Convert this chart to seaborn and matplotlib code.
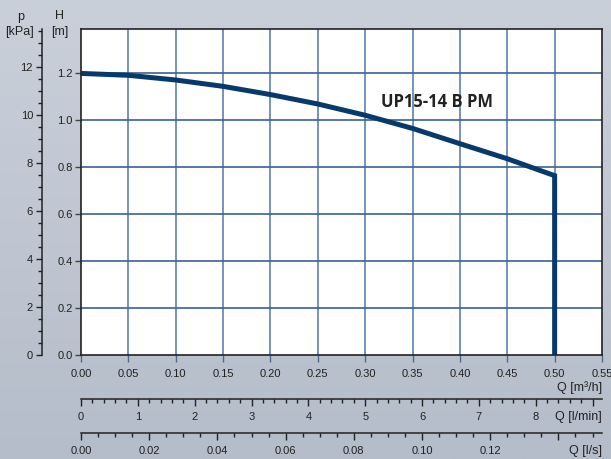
import numpy as np
import pandas as pd
import matplotlib
matplotlib.use("Agg")
import matplotlib.pyplot as plt
from matplotlib.ticker import MultipleLocator, FixedLocator, FixedFormatter
import seaborn as sns

# ---- data ----
q_m3h = [0.00, 0.05, 0.10, 0.15, 0.20, 0.25, 0.30, 0.35, 0.40, 0.45, 0.50, 0.50]
h_m = [1.198, 1.190, 1.170, 1.143, 1.108, 1.068, 1.020, 0.964, 0.899, 0.835, 0.763, 0.0]
curve_label = "UP15-14 B PM"
h_ticks = [0.0, 0.2, 0.4, 0.6, 0.8, 1.0, 1.2]
q_ticks = [0.00, 0.05, 0.10, 0.15, 0.20, 0.25, 0.30, 0.35, 0.40, 0.45, 0.50, 0.55]
p_ticks = [0, 2, 4, 6, 8, 10, 12]
lmin_ticks = [0, 1, 2, 3, 4, 5, 6, 7, 8, 9]
lmin_labels = ["0", "1", "2", "3", "4", "5", "6", "7", "8", ""]
ls_ticks = [0.00, 0.02, 0.04, 0.06, 0.08, 0.10, 0.12, 0.14]
ls_labels = ["0.00", "0.02", "0.04", "0.06", "0.08", "0.10", "0.12", ""]

sns.set_style("white")
plt.rcParams["font.family"] = ["Liberation Sans", "DejaVu Sans"]

W, H = 611, 459
fig = plt.figure(figsize=(W / 100, H / 100), dpi=100)

# background gradient
bg = fig.add_axes([0, 0, 1, 1], zorder=-10)
grad = np.linspace(0, 1, 256).reshape(-1, 1)
top_c = np.array([0xca, 0xd0, 0xda]) / 255
bot_c = np.array([0xb5, 0xbd, 0xca]) / 255
img = top_c[None, None, :] * (1 - grad[:, :, None]) + bot_c[None, None, :] * grad[:, :, None]
bg.imshow(img, aspect="auto", extent=[0, 1, 0, 1])
bg.set_axis_off()

L, R, T, B = 81, 602, 29, 355
ax = fig.add_axes([L / W, 1 - B / H, (R - L) / W, (B - T) / H])
ax.set_facecolor("white")

df = pd.DataFrame({"Q": q_m3h, "H": h_m})
ax.set_xlim(0, 0.55)
ax.set_ylim(0, 1.387)

# grid
for q in q_ticks[1:-1]:
    ax.axvline(q, color="#6a8bb5", lw=1.3, zorder=1)
for h in h_ticks[1:]:
    ax.axhline(h, color="#3a6194", lw=1.2, zorder=1)

sns.lineplot(data=df, x="Q", y="H", sort=False, estimator=None, ax=ax,
             color="#063a6c", lw=3.6, zorder=5, solid_joinstyle="miter")

ax.text(0.3165, 1.077, curve_label, fontsize=12, fontweight="bold",
        family=["Open Sans", "DejaVu Sans"], color="#222222",
        ha="left", va="center", zorder=6)

for s in ax.spines.values():
    s.set_color("#222222")
    s.set_linewidth(1.2)
    s.set_zorder(7)

ax.set_xlabel("")
ax.set_ylabel("")
ax.xaxis.set_major_locator(FixedLocator(q_ticks))
ax.set_xticklabels([f"{v:.2f}" for v in q_ticks])
ax.yaxis.set_major_locator(FixedLocator(h_ticks))
ax.set_yticklabels([f"{v:.1f}" for v in h_ticks])
ax.tick_params(axis="x", direction="out", length=5, width=1.0, color="#4f6a8c",
               labelsize=8, labelcolor="#222222", pad=5, bottom=True)
ax.tick_params(axis="y", direction="out", length=4.5, width=1.0, color="#444444",
               labelsize=8, labelcolor="#222222", pad=1.5, left=True)

# p [kPa] axis
KPA = 9.80665
sy = ax.secondary_yaxis(-(L - 42) / (R - L), functions=(lambda h: h * KPA, lambda p: p / KPA))
sy.yaxis.set_major_locator(FixedLocator(p_ticks))
sy.yaxis.set_minor_locator(MultipleLocator(0.5))
sy.tick_params(axis="y", which="major", direction="out", length=4.5, width=1.0,
               color="#222222", labelsize=8, labelcolor="#222222", pad=2)
sy.tick_params(axis="y", which="minor", direction="out", length=2.8, width=1.0,
               color="#222222")
sy.spines["left"].set_color("#222222")
sy.spines["left"].set_linewidth(1.1)

# Q [l/min] axis
sx1 = ax.secondary_xaxis(-(399 - B) / (B - T),
                         functions=(lambda q: q * 1000 / 60, lambda l: l * 60 / 1000))
sx1.xaxis.set_major_locator(FixedLocator(lmin_ticks))
sx1.xaxis.set_major_formatter(FixedFormatter(lmin_labels))
sx1.xaxis.set_minor_locator(MultipleLocator(0.2))
sx1.tick_params(axis="x", which="major", direction="out", length=5, width=1.0,
                color="#222222", labelsize=8, labelcolor="#222222", pad=4)
sx1.tick_params(axis="x", which="minor", direction="out", length=2.8, width=1.0,
                color="#222222")
sx1.spines["bottom"].set_color("#222222")
sx1.spines["bottom"].set_linewidth(1.1)

# Q [l/s] axis
sx2 = ax.secondary_xaxis(-(433 - B) / (B - T),
                         functions=(lambda q: q / 3.6, lambda l: l * 3.6))
sx2.xaxis.set_major_locator(FixedLocator(ls_ticks))
sx2.xaxis.set_major_formatter(FixedFormatter(ls_labels))
sx2.xaxis.set_minor_locator(MultipleLocator(0.005))
sx2.tick_params(axis="x", which="major", direction="out", length=5, width=1.0,
                color="#222222", labelsize=8, labelcolor="#222222", pad=4)
sx2.tick_params(axis="x", which="minor", direction="out", length=2.8, width=1.0,
                color="#222222")
sx2.spines["bottom"].set_color("#222222")
sx2.spines["bottom"].set_linewidth(1.1)

# axis titles
def ft(x, y, s, **kw):
    fig.text(x / W, 1 - y / H, s, fontsize=9, color="#222222", **kw)

ft(21, 17, "p", ha="center", va="center")
ft(20, 32, "[kPa]", ha="center", va="center")
ft(60, 16, "H", ha="center", va="center")
ft(60, 32, "[m]", ha="center", va="center")
ft(602, 388, "Q [m³/h]", ha="right", va="center")
ft(602, 417, "Q [l/min]", ha="right", va="center")
ft(602, 451, "Q [l/s]", ha="right", va="center")

fig.savefig("out.png", dpi=100)
